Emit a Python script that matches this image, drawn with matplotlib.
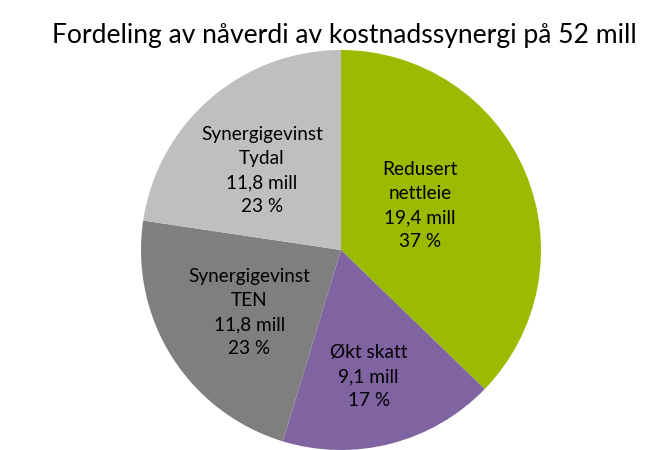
import matplotlib
matplotlib.use("Agg")
import matplotlib.pyplot as plt
import numpy as np

categories = ["Redusert\nnettleie", "Økt skatt", "Synergigevinst\nTEN", "Synergigevinst\nTydal"]
values = [19.4, 9.1, 11.8, 11.8]
value_labels = ["19,4 mill", "9,1 mill", "11,8 mill", "11,8 mill"]
pct_labels = ["37 %", "17 %", "23 %", "23 %"]
colors = ["#9BBB00", "#8064A2", "#7F7F7F", "#BFBFBF"]
title = "Fordeling av nåverdi av kostnadssynergi på 52 mill"

plt.rcParams['font.family'] = ['Lato', 'DejaVu Sans']

fig = plt.figure(figsize=(6.72, 4.5), dpi=100)
renderer = fig.canvas.get_renderer()


def fit_size(s, target_px, base=12.0):
    t = fig.text(0, 0, s, fontsize=base)
    w = t.get_window_extent(renderer=renderer).width
    t.remove()
    return base * target_px / w


ax = fig.add_axes([141/672, 0/450, 400/672, 400/450])
wedges, _ = ax.pie(values, colors=colors, startangle=90, counterclock=False,
                   radius=1.0, wedgeprops=dict(linewidth=0))
ax.set_xlim(-1, 1)
ax.set_ylim(-1, 1)
ax.set_aspect('equal')
ax.axis('off')

lab_fs = 0.5 * (fit_size("Økt skatt", 77) + fit_size("Synergigevinst", 122))
label_dist = [0.452, 0.649, 0.555, 0.559]
angle_shift = [6.3, -2.2, 2.0, 4.2]
for w, cat, vl, pl, d, s in zip(wedges, categories, value_labels, pct_labels, label_dist, angle_shift):
    ang = np.deg2rad((w.theta1 + w.theta2) / 2 + s)
    ax.text(d*np.cos(ang), d*np.sin(ang), f"{cat}\n{vl}\n{pl}", ha='center', va='center',
            fontsize=lab_fs, linespacing=1.5, color='black')

title_fs = fit_size(title, 584, 18)
fig.text(344/672, 1 - 43/450, title, ha='center', va='baseline', fontsize=title_fs, color='black')
fig.savefig("out.png", dpi=100)
